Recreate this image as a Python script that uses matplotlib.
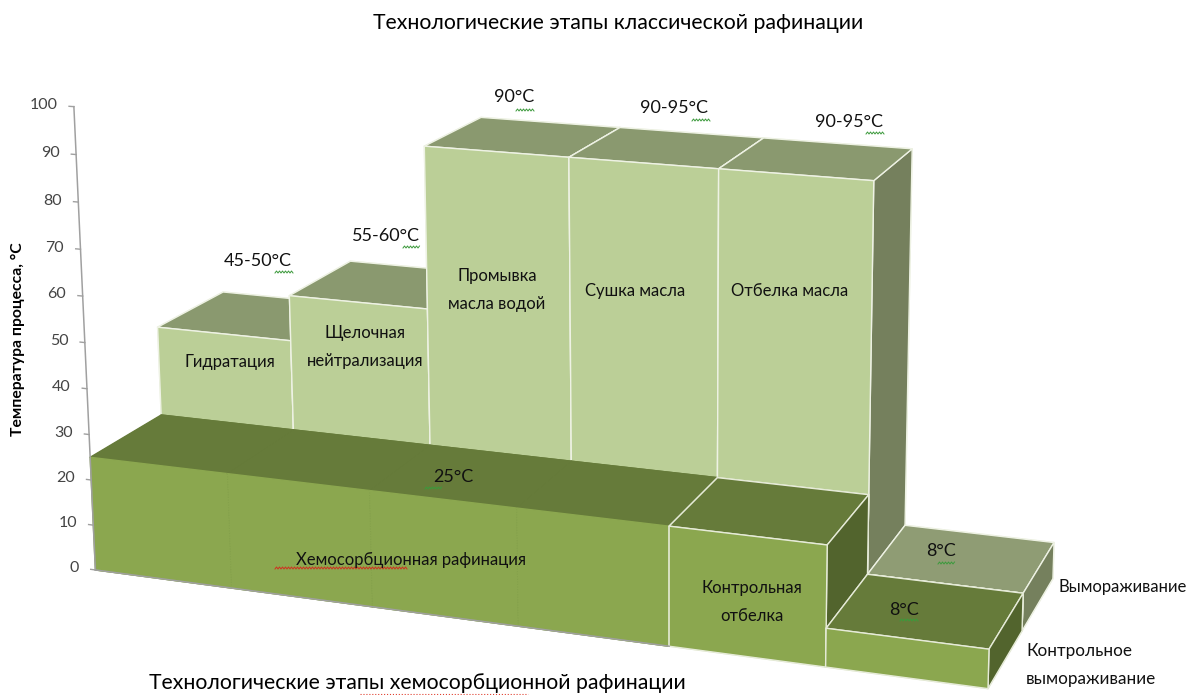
import matplotlib
matplotlib.use('Agg')
import matplotlib.pyplot as plt
from matplotlib.lines import Line2D
from mpl_toolkits.mplot3d import proj3d
import numpy as np

plt.rcParams['font.family'] = ['Lato', 'Open Sans', 'DejaVu Sans']

W, H = 1189, 695

# значения
stage_pos = [0, 1, 2, 3, 4, 5]
classic_temps = [45, 55, 90, 90, 90, 8]
chemo_temps = [25, 25, 25, 25, 25, 8]
z_ticks = [0, 10, 20, 30, 40, 50, 60, 70, 80, 90, 100]

classic_face = '#BBCF97'
classic_top = ['#8A996F'] * 5 + ['#8F9C74']
classic_side = '#75805D'
chemo_face = '#8BA74F'
chemo_top = '#667B3A'
chemo_side = '#52642D'
no_edge = (0, 0, 0, 0)


def px(x, y):
    return x / W, 1 - y / H


def add_bar(ax, x, row, h, face, top, side, edge, order):
    # порядок граней: -z, +z, -y, +y, -x, +x
    cols = [face, top, face, top, side, side]
    if edge is None:
        edge = [face, top, face, top, no_edge, no_edge]
    b = ax.bar3d(x, row, 0, 1, 1, h, color=cols, shade=False, edgecolor=edge, linewidth=1.0)
    b.set_zorder(order)
    b.set_clip_on(False)


def wavy(fig, x0, x1, y, color):
    xs = np.arange(x0, x1 + 0.1, 1.5)
    ys = y + 1.0 * (-1.0) ** np.arange(len(xs))
    fx, fy = px(xs, ys)
    fig.add_artist(Line2D(fx, fy, color=color, lw=0.7, transform=fig.transFigure))


fig = plt.figure(figsize=(W / 100, H / 100), dpi=100)
S = 1000
focal = 0.5328
ax = fig.add_axes([156 / W, 26 / H, S / W, S / H], projection='3d')
ax.set_proj_type('persp', focal_length=focal)
ax.view_init(elev=12.7, azim=-71)
ax.computed_zorder = False
ax.set_axis_off()

cx, cy, cz = 3.38, 1.904, 85.4
ax.set_xlim(cx - 4, cx + 4)
ax.set_ylim(cy - 2, cy + 2)
ax.set_zlim(cz - 100, cz + 100)
box = np.array([8 * 0.5265, 4 * 0.5, 200 * 0.01642]) * focal
ax.set_box_aspect(box, zoom=np.linalg.norm(box) / (1.8294640721620434 * 25 / 24))

order = 1
for x, h, t in zip(stage_pos, classic_temps, classic_top):
    add_bar(ax, x, 1, h, classic_face, t, classic_side, '#EEF2E4', order)
    order += 1
for x, h in zip(stage_pos, chemo_temps):
    edge = None if x < 4 else '#E6EBD8'
    add_bar(ax, x, 0, h, chemo_face, chemo_top, chemo_side, edge, order)
    order += 1

# пунктир между категориями на передней грани
for x in stage_pos[1:4]:
    l, = ax.plot([x, x], [0, 0], [0, 25], color='#83A04B', lw=0.7, ls=':', zorder=order)
    l.set_clip_on(False)

# ось температур
order += 1
lines = ax.plot([0, 0], [0, 0], [0, 100], color='#A0A0A0', lw=1.1, zorder=order)
lines += ax.plot([0, 4], [0, 0], [0, 0], color='#A0A0A0', lw=1.1, zorder=order)
for t in z_ticks:
    lines += ax.plot([-0.035, 0], [0, 0], [t, t], color='#A0A0A0', lw=1, zorder=order)
    lx, ly, _ = proj3d.proj_transform(-0.12, 0, t, ax.get_proj())
    fig.text(lx, ly, str(t), transform=ax.transData, ha='right', va='center', fontsize=11.5, color='#444444')
for l in lines:
    l.set_clip_on(False)

fig.text(*px(18, 339), 'Температура процесса, °С', rotation=90, ha='center', va='center',
         fontsize=11.3, fontweight='bold')
fig.text(*px(618, 23), 'Технологические этапы классической рафинации', ha='center', va='center', fontsize=15.3)
fig.text(*px(417, 683), 'Технологические этапы хемосорбционной рафинации', ha='center', va='center', fontsize=15.3)

labels = [
    (230, 362, 'Гидратация', 12), (365, 347, 'Щелочная\nнейтрализация', 12),
    (497, 290, 'Промывка\nмасла водой', 12), (635, 291, 'Сушка масла', 12),
    (790, 291, 'Отбелка масла', 12), (411, 560, 'Хемосорбционная рафинация', 12),
    (752, 602, 'Контрольная\nотбелка', 12), (1123, 587, 'Вымораживание', 12),
    (258, 261, '45-50°C', 13), (386, 236, '55-60°C', 13), (514, 97, '90°C', 13),
    (674, 108, '90-95°C', 13), (849, 122, '90-95°C', 13), (453, 477, '25°C', 13),
    (941, 551, '8°C', 13), (904, 610, '8°C', 13),
]
for x, y, s, size in labels:
    fig.text(*px(x, y), s, ha='center', va='center', fontsize=size, linespacing=1.85, color='#111111')
fig.text(*px(1026, 665), 'Контрольное\nвымораживание', ha='left', va='center', fontsize=12.3,
         linespacing=1.85, color='#111111')

# подчёркивания проверки орфографии
green = '#3C9A3C'
for x0, x1, y in [(275, 293, 272), (403, 420, 247), (516, 534, 110), (692, 710, 120),
                  (866, 884, 133), (425, 442, 488), (938, 955, 563), (900, 918, 620)]:
    wavy(fig, x0, x1, y, green)
wavy(fig, 275, 408, 568, '#D03020')
fig.add_artist(Line2D(*px(np.array([360, 528]), np.array([693.5, 693.5])), color='#E04030', lw=0.8, ls=':',
                      transform=fig.transFigure))

fig.savefig('out.png', dpi=100)
